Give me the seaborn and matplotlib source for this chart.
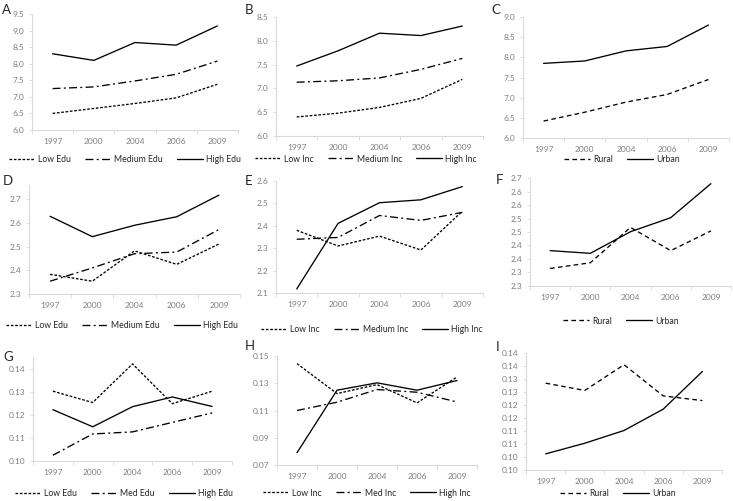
import numpy as np
import pandas as pd
import matplotlib
matplotlib.use("Agg")
import matplotlib.pyplot as plt
import seaborn as sns

# ==========================
# data
# ==========================
years = ["1997", "2000", "2004", "2006", "2009"]

a_low = [6.50, 6.65, 6.80, 6.97, 7.38]
a_med = [7.25, 7.30, 7.48, 7.68, 8.08]
a_high = [8.30, 8.10, 8.64, 8.56, 9.14]

b_low = [6.40, 6.48, 6.60, 6.79, 7.19]
b_med = [7.13, 7.16, 7.22, 7.40, 7.63]
b_high = [7.47, 7.79, 8.16, 8.11, 8.31]

c_rural = [6.42, 6.64, 6.89, 7.08, 7.45]
c_urban = [7.85, 7.91, 8.16, 8.27, 8.80]

d_low = [2.383, 2.354, 2.482, 2.425, 2.511]
d_med = [2.354, 2.410, 2.470, 2.477, 2.572]
d_high = [2.628, 2.542, 2.590, 2.626, 2.717]

e_low = [2.380, 2.310, 2.354, 2.292, 2.465]
e_med = [2.340, 2.348, 2.446, 2.424, 2.460]
e_high = [2.118, 2.411, 2.503, 2.516, 2.575]

f_rural = [2.365, 2.386, 2.517, 2.431, 2.504]
f_urban = [2.431, 2.421, 2.501, 2.553, 2.679]

g_low = [0.1302, 0.1253, 0.1420, 0.1248, 0.1302]
g_med = [0.1025, 0.1117, 0.1126, 0.1167, 0.1208]
g_high = [0.1222, 0.1148, 0.1235, 0.1277, 0.1236]

h_low = [0.1444, 0.1224, 0.1290, 0.1156, 0.1346]
h_med = [0.1100, 0.1161, 0.1254, 0.1234, 0.1163]
h_high = [0.0790, 0.1249, 0.1303, 0.1249, 0.1320]

i_rural = [0.1334, 0.1306, 0.1405, 0.1285, 0.1267]
i_urban = [0.1062, 0.1103, 0.1152, 0.1234, 0.1379]

f_ticks = [2.30, 2.35, 2.40, 2.45, 2.50, 2.55, 2.60, 2.65, 2.70]
f_ticklabels = ["2.3", "2.3", "2.4", "2.4", "2.5", "2.5", "2.6", "2.6", "2.7"]
i_ticks = [0.100, 0.105, 0.110, 0.115, 0.120, 0.125, 0.130, 0.135, 0.140, 0.145]
i_ticklabels = ["0.10", "0.10", "0.11", "0.11", "0.12", "0.12", "0.13", "0.13", "0.14", "0.14"]

# ==========================
# style
# ==========================
sns.set_theme(style="white")
plt.rcParams["font.family"] = ["Lato", "DejaVu Sans"]

W, H = 733, 501
fig = plt.figure(figsize=(W / 100, H / 100), dpi=100)

LW = 0.95
DASH_LOW = (2, 1.3)
DASH_MED = (6, 2.5, 1.5, 2.5)
DASH_RURAL = (3.5, 2.5)
GRID = "#d9d9d9"
TICK = "#7f7f7f"


def make_df(series):
    rows = []
    for name, vals in series:
        for i, v in enumerate(vals):
            rows.append({"x": i, "value": v, "group": name})
    return pd.DataFrame(rows)


def add_panel(letter, box, series, dashes, ylim, yticks, yfmt, leg_xy,
              letter_xy, yticklabels=None):
    left, right, top, bottom = box
    ax = fig.add_axes([left / W, 1 - bottom / H, (right - left) / W, (bottom - top) / H])
    df = make_df(series)
    order = [s[0] for s in series]
    sns.lineplot(data=df, x="x", y="value", style="group", style_order=order,
                 dashes=dashes, color="black", lw=LW, ax=ax)
    ax.set_xlim(-0.5, 4.5)
    ax.set_ylim(*ylim)
    ax.set_xticks(range(5))
    ax.set_xticklabels(years)
    ax.set_xticks(np.arange(-0.5, 5, 1), minor=True)
    ax.set_yticks(yticks)
    if yticklabels is None:
        yticklabels = [yfmt.format(t) for t in yticks]
    ax.set_yticklabels(yticklabels)
    ax.set_xlabel("")
    ax.set_ylabel("")
    for s in ["top", "right"]:
        ax.spines[s].set_visible(False)
    for s in ["left", "bottom"]:
        ax.spines[s].set_color(GRID)
        ax.spines[s].set_linewidth(0.8)
    ax.tick_params(axis="x", which="major", length=0, pad=6, labelsize=6, labelcolor=TICK)
    ax.tick_params(axis="x", which="minor", length=3, width=0.6, color=GRID, direction="out", bottom=True)
    ax.tick_params(axis="y", length=2.5, width=0.6, color=GRID, direction="out", left=True,
                   labelsize=6, labelcolor=TICK, pad=3)
    ax.patch.set_alpha(0)
    sns.move_legend(ax, "center", bbox_to_anchor=(leg_xy[0] / W, 1 - leg_xy[1] / H),
                    bbox_transform=fig.transFigure, ncol=len(series), frameon=False,
                    title=None, fontsize=6.2, handlelength=3.0, columnspacing=1.6,
                    handletextpad=0.4, borderpad=0.1)
    fig.text(letter_xy[0] / W, 1 - letter_xy[1] / H, letter, fontsize=9.5,
             ha="left", va="center")
    return ax


edu3 = {"Low Edu": DASH_LOW, "Medium Edu": DASH_MED, "High Edu": ""}
inc3 = {"Low Inc": DASH_LOW, "Medium Inc": DASH_MED, "High Inc": ""}
ru2 = {"Rural": DASH_RURAL, "Urban": ""}

add_panel("A", (32, 238, 14, 130),
          [("Low Edu", a_low), ("Medium Edu", a_med), ("High Edu", a_high)], edu3,
          (6.0, 9.5), np.arange(6.0, 9.51, 0.5), "{:.1f}", (125, 160), (2, 10))
add_panel("B", (276, 483, 17, 136),
          [("Low Inc", b_low), ("Medium Inc", b_med), ("High Inc", b_high)], inc3,
          (6.0, 8.5), np.arange(6.0, 8.51, 0.5), "{:.1f}", (366, 159), (245, 10))
add_panel("C", (523, 729, 17, 138),
          [("Rural", c_rural), ("Urban", c_urban)], ru2,
          (6.0, 9.0), np.arange(6.0, 9.01, 0.5), "{:.1f}", (622, 160), (491, 10))

add_panel("D", (29, 240, 185, 294),
          [("Low Edu", d_low), ("Medium Edu", d_med), ("High Edu", d_high)], edu3,
          (2.3, 2.76), np.arange(2.3, 2.71, 0.1), "{:.1f}", (122, 326), (3, 181))
add_panel("E", (276, 483, 181, 293),
          [("Low Inc", e_low), ("Medium Inc", e_med), ("High Inc", e_high)], inc3,
          (2.1, 2.6), np.arange(2.1, 2.61, 0.1), "{:.1f}", (372, 330), (245, 181))
add_panel("F", (530, 731, 178, 286),
          [("Rural", f_rural), ("Urban", f_urban)], ru2,
          (2.3, 2.7), f_ticks, "{:.1f}", (621, 321), (496, 180), yticklabels=f_ticklabels)

add_panel("G", (33, 232, 357, 461),
          [("Low Edu", g_low), ("Med Edu", g_med), ("High Edu", g_high)],
          {"Low Edu": DASH_LOW, "Med Edu": DASH_MED, "High Edu": ""},
          (0.10, 0.145), np.arange(0.10, 0.1401, 0.01), "{:.2f}", (124, 494), (3, 357))
add_panel("H", (277, 477, 356, 465),
          [("Low Inc", h_low), ("Med Inc", h_med), ("High Inc", h_high)],
          {"Low Inc": DASH_LOW, "Med Inc": DASH_MED, "High Inc": ""},
          (0.07, 0.15), np.arange(0.07, 0.1501, 0.02), "{:.2f}", (367, 493), (245, 346))
add_panel("I", (526, 722, 353, 470),
          [("Rural", i_rural), ("Urban", i_urban)], ru2,
          (0.10, 0.145), i_ticks, "{:.2f}", (618, 494), (496, 347), yticklabels=i_ticklabels)

fig.savefig("out.png", dpi=100)
